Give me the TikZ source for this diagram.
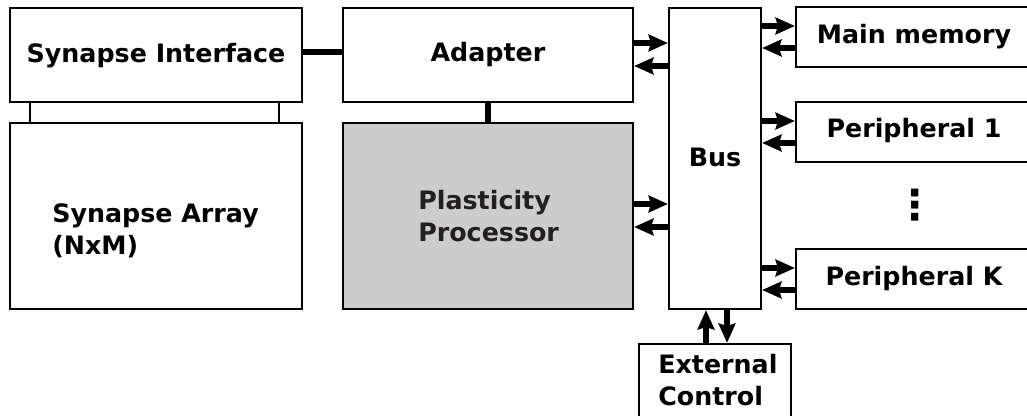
\documentclass[tikz,border=0pt]{standalone}
\usepackage{fontspec}
\setmainfont{DejaVu Sans}
\usetikzlibrary{arrows.meta,fit}
\definecolor{procgray}{HTML}{CCCCCC}
\definecolor{proctext}{HTML}{231F20}
\tikzset{
  box/.style={draw=black, line width=1.6pt, fill=white, rectangle, inner sep=0pt},
  lbl/.style={font=\fontsize{19pt}{24pt}\selectfont\bfseries, inner sep=0pt, anchor=base},
  lbll/.style={lbl, align=left, anchor=base west},
  wide link/.style={line width=4.5pt},
  thin link/.style={line width=1.6pt},
  io/.style={line width=4.5pt, -{Stealth[length=14.5pt, width=12.5pt, inset=1.8pt]}},
}
\begin{document}
\begin{tikzpicture}[x=0.75pt, y=-0.75pt]
\useasboundingbox (0,0) rectangle (1027,416);
\clip (0,0) rectangle (1027,416);

% blocks
\node[box, fit={(10,8) (302,102)}] (si) {};
\node[box, fit={(343,8) (633,102)}] (ad) {};
\node[box, fit={(10,123) (302,309)}] (sa) {};
\node[box, fill=procgray, fit={(343,123) (633,309)}] (pp) {};
\node[box, fit={(669,8) (761,309)}] (bus) {};
\node[box, fit={(796,7) (1040,67)}] (mm) {};
\node[box, fit={(796,102) (1040,162)}] (p1) {};
\node[box, fit={(796,249) (1040,309)}] (pk) {};
\node[box, fit={(639,344) (791,440)}] (ec) {};

% labels (two-line labels are anchored at their last baseline)
\node[lbl] (si-text) at (156,63) {Synapse Interface};
\node[lbl] (ad-text) at (488,62) {Adapter};
\node[lbll] (sa-text) at (52,255) {Synapse Array\\(NxM)};
\node[lbll, text=proctext] (pp-text) at (418,242) {Plasticity\\Processor};
\node[lbl] (bus-text) at (715,167) {Bus};
\node[lbl] (mm-text) at (914,44) {Main memory};
\node[lbl] (p1-text) at (914,138) {Peripheral 1};
\node[lbl] (pk-text) at (914,286) {Peripheral K};
\node[lbll] (ec-text) at (658,405) {External\\Control};
\node[lbl, anchor=center, font=\fontsize{31pt}{36pt}\selectfont\bfseries] (dots) at (915,205) {⋮};

% plain links
\draw[wide link] (si.east |- 0,52) -- (ad.west |- 0,52);
\draw[wide link] (ad.south) -- (pp.north);
\draw[thin link] (si.south -| 30,0) -- (sa.north -| 30,0);
\draw[thin link] (si.south -| 279,0) -- (sa.north -| 279,0);

% bus traffic
\draw[io] (ad.east |- 0,43) -- (bus.west |- 0,43);
\draw[io] (bus.west |- 0,66) -- (ad.east |- 0,66);
\draw[io] (pp.east |- 0,204) -- (bus.west |- 0,204);
\draw[io] (bus.west |- 0,227) -- (pp.east |- 0,227);
\draw[io] (bus.east |- 0,26) -- (mm.west |- 0,26);
\draw[io] (mm.west |- 0,48) -- (bus.east |- 0,48);
\draw[io] (bus.east |- 0,121) -- (p1.west |- 0,121);
\draw[io] (p1.west |- 0,143) -- (bus.east |- 0,143);
\draw[io] (bus.east |- 0,268) -- (pk.west |- 0,268);
\draw[io] (pk.west |- 0,290) -- (bus.east |- 0,290);
\draw[io] (ec.north -| 706,0) -- (bus.south -| 706,0);
\draw[io] (bus.south -| 727,0) -- (ec.north -| 727,0);
\end{tikzpicture}
\end{document}
